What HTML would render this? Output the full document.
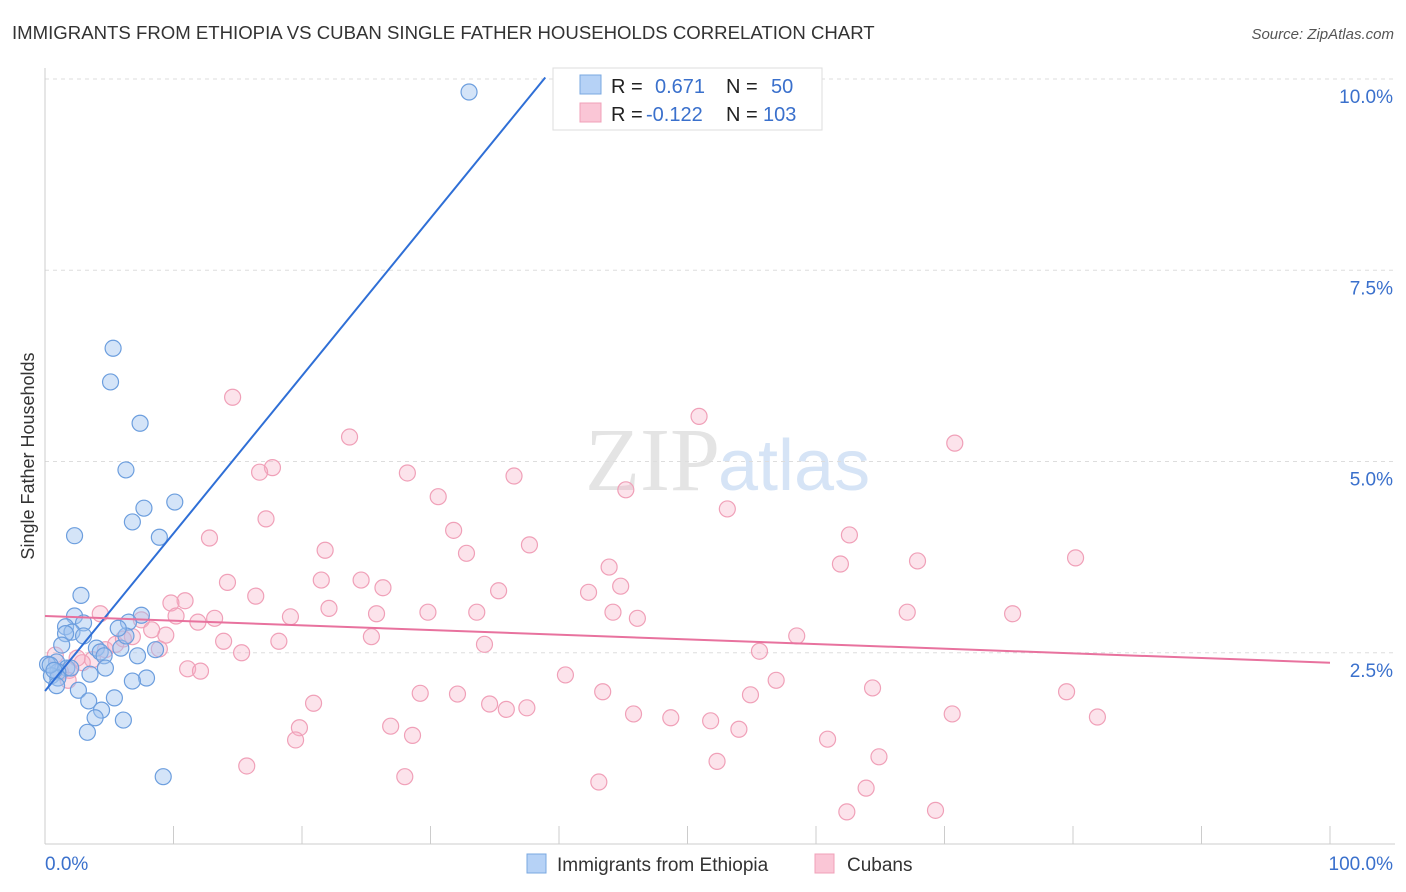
<!DOCTYPE html>
<html><head><meta charset="utf-8">
<style>
body{margin:0;background:#fff;font-family:"Liberation Sans",sans-serif;}
#wrap{position:relative;width:1406px;height:892px;overflow:hidden;}
</style></head>
<body>
<div id="wrap">
<svg id="chart" width="1406" height="892">
<text x="12" y="39" font-size="18.6" fill="#333">IMMIGRANTS FROM ETHIOPIA VS CUBAN SINGLE FATHER HOUSEHOLDS CORRELATION CHART</text>
<text x="1394" y="39" font-size="15" fill="#555" text-anchor="end" font-style="italic">Source: ZipAtlas.com</text>
<text x="720" y="490" font-size="90" fill="#e4e4e4" text-anchor="end" font-family="Liberation Serif">ZIP</text>
<text x="718" y="490" font-size="72" fill="#d6e4f6">atlas</text>
<text transform="translate(34,456) rotate(-90)" font-size="18" fill="#333" text-anchor="middle">Single Father Households</text>
<g id="grid"></g><g id="marks"></g>
<g>
<rect x="553" y="68" width="269" height="62" fill="#fff" stroke="#ddd"/>
<rect x="580" y="75" width="21" height="19" fill="#b6d2f6" stroke="#7aa8e0"/>
<rect x="580" y="103" width="21" height="19" fill="#fac6d6" stroke="#f0a0b8"/>
<text x="611" y="93" font-size="20" fill="#222">R =</text>
<text x="655" y="93" font-size="20" fill="#3a70cc">0.671</text>
<text x="726" y="93" font-size="20" fill="#222">N =</text>
<text x="771" y="93" font-size="20" fill="#3a70cc">50</text>
<text x="611" y="121" font-size="20" fill="#222">R =</text>
<text x="646" y="121" font-size="20" fill="#3a70cc">-0.122</text>
<text x="726" y="121" font-size="20" fill="#222">N =</text>
<text x="763" y="121" font-size="20" fill="#3a70cc">103</text>
</g>
<g>
<rect x="527" y="854" width="19" height="19" fill="#b6d2f6" stroke="#7aa8e0"/>
<text x="557" y="871" font-size="19" fill="#333">Immigrants from Ethiopia</text>
<rect x="815" y="854" width="19" height="19" fill="#fac6d6" stroke="#f0a0b8"/>
<text x="847" y="871" font-size="19" fill="#333">Cubans</text>
</g>
</svg>
</div>
<script>
const yTicks=[2.5,5.0,7.5,10.0];
const yTickLabels=["2.5%","5.0%","7.5%","10.0%"];
const xTickLabels=["0.0%","100.0%"];
const ethX=[33.0,5.3,5.1,7.4,6.3,10.1,7.7,6.8,2.3,8.9,2.8,2.3,7.5,3.0,1.6,2.1,6.5,1.6,3.0,4.0,4.3,5.9,6.3,8.6,4.6,7.2,0.9,0.2,1.7,2.0,1.0,3.5,0.5,1.0,4.7,7.9,6.8,0.9,2.6,5.4,3.4,4.4,3.9,6.1,3.3,9.2,0.4,1.3,0.7,5.7];
const ethY=[9.83,6.48,6.04,5.50,4.89,4.47,4.39,4.21,4.03,4.01,3.25,2.98,2.99,2.89,2.84,2.77,2.90,2.75,2.72,2.56,2.51,2.56,2.72,2.54,2.46,2.46,2.38,2.35,2.30,2.30,2.25,2.22,2.20,2.17,2.30,2.17,2.13,2.07,2.01,1.91,1.87,1.75,1.65,1.62,1.46,0.88,2.34,2.60,2.27,2.82];
const cubX=[14.6,23.7,50.9,70.8,17.7,16.7,28.2,36.5,30.6,45.2,53.1,17.2,31.8,12.8,62.6,37.7,21.8,32.8,61.9,43.9,67.9,80.2,14.2,21.5,24.6,26.3,35.3,42.3,44.8,16.4,10.9,9.8,22.1,44.2,29.8,33.6,25.8,19.1,10.2,13.2,46.1,67.1,75.3,4.3,11.9,7.5,9.4,8.3,13.9,6.8,4.7,5.5,6.1,25.4,34.2,18.2,58.5,3.7,2.9,1.9,1.2,0.8,2.5,15.3,8.9,55.6,11.1,12.1,40.5,56.9,29.2,32.1,43.4,54.9,64.4,79.5,20.9,34.6,35.9,37.5,26.9,45.8,48.7,51.8,54.0,70.6,81.9,19.8,19.5,28.6,60.9,15.7,52.3,64.9,28.0,43.1,63.9,62.4,69.3,1.8];
const cubY=[5.84,5.32,5.59,5.24,4.92,4.86,4.85,4.81,4.54,4.63,4.38,4.25,4.10,4.00,4.04,3.91,3.84,3.80,3.66,3.62,3.70,3.74,3.42,3.45,3.45,3.35,3.31,3.29,3.37,3.24,3.18,3.15,3.08,3.03,3.03,3.03,3.01,2.97,2.98,2.95,2.95,3.03,3.01,3.01,2.90,2.93,2.73,2.80,2.65,2.71,2.54,2.61,2.68,2.71,2.61,2.65,2.72,2.41,2.37,2.27,2.25,2.47,2.43,2.50,2.55,2.52,2.29,2.26,2.21,2.14,1.97,1.96,1.99,1.95,2.04,1.99,1.84,1.83,1.76,1.78,1.54,1.70,1.65,1.61,1.50,1.70,1.66,1.52,1.36,1.42,1.37,1.02,1.08,1.14,0.88,0.81,0.73,0.42,0.44,2.14];
const ethFit=[2.0,0.206];
const cubFit=[2.98,-0.0061];

const X=v=>45+v*12.85;
const Y=v=>844-v*76.5;
const NS="http://www.w3.org/2000/svg";
function mk(tag,attrs,parent){const e=document.createElementNS(NS,tag);for(const k in attrs)e.setAttribute(k,attrs[k]);parent.appendChild(e);return e;}
const grid=document.getElementById('grid'),marks=document.getElementById('marks');
yTicks.forEach((t,i)=>{
 const l=mk('line',{x1:45,x2:1395,y1:Y(t),y2:Y(t),stroke:'#ddd','stroke-dasharray':'4,4'},grid);
 
 
 const tx=mk('text',{x:1393,y:Y(t)+24,'font-size':19,fill:'#3a70cc','text-anchor':'end'},grid);
 tx.textContent=yTickLabels[i];
 
 
});
const ax=mk('line',{x1:45,x2:1395,y1:844,y2:844,stroke:'#ccc'},grid);


const ay=mk('line',{x1:45,x2:45,y1:68,y2:844,stroke:'#ccc'},grid);


for(let i=1;i<=10;i++){
 const t=mk('line',{x1:X(i*10),x2:X(i*10),y1:826,y2:844,stroke:'#ccc'},grid);
 
 
}
[[0,'start',45],[100,'end',1393]].forEach((p,i)=>{
 const t=mk('text',{x:p[2],y:870,'font-size':19,fill:'#3a70cc','text-anchor':p[1]},grid);
 t.textContent=xTickLabels[i];
 
 
});
cubX.forEach((x,i)=>{
 const c=mk('circle',{cx:X(x),cy:Y(cubY[i]),r:8,fill:'rgba(245,175,198,0.35)',stroke:'#f0a0b8','stroke-width':1.2},marks);
 
 
});
ethX.forEach((x,i)=>{
 const c=mk('circle',{cx:X(x),cy:Y(ethY[i]),r:8,fill:'rgba(160,196,240,0.45)',stroke:'#6c9ede','stroke-width':1.2},marks);
 
 
});
const ex2=(10.02-ethFit[0])/ethFit[1];
const bl=mk('line',{x1:X(0),y1:Y(ethFit[0]),x2:X(ex2),y2:Y(ethFit[0]+ethFit[1]*ex2),stroke:'#2f6fd6','stroke-width':2},marks);


const pl=mk('line',{x1:X(0),y1:Y(cubFit[0]),x2:X(100),y2:Y(cubFit[0]+cubFit[1]*100),stroke:'#e8729e','stroke-width':2},marks);


</script>
</body></html>
